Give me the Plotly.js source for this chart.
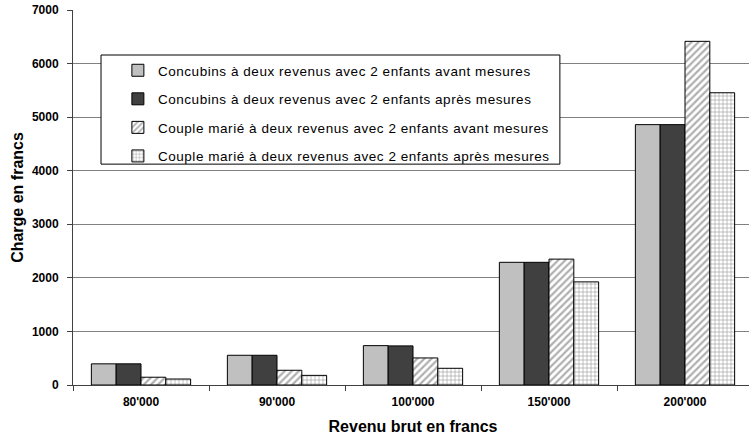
<!DOCTYPE html>
<html><head><meta charset="utf-8">
<script src="https://cdn.plot.ly/plotly-3.0.1.min.js"></script>
<style>html,body{margin:0;padding:0;overflow:hidden;background:#fff}
.legendtext{letter-spacing:0.55px}</style>
</head><body><div id="chart"></div>
<script>
const categories = ["80'000", "90'000", "100'000", "150'000", "200'000"];
const concubinsAvant = [395, 555, 735, 2290, 4860];
const concubinsApres = [395, 555, 730, 2290, 4860];
const marieAvant = [145, 275, 505, 2350, 6415];
const marieApres = [112, 180, 312, 1925, 5455];
const seriesNames = [
  "Concubins à deux revenus avec 2 enfants avant mesures",
  "Concubins à deux revenus avec 2 enfants après mesures",
  "Couple marié à deux revenus avec 2 enfants avant mesures",
  "Couple marié à deux revenus avec 2 enfants après mesures"
];
const font = "Liberation Sans, Arial, sans-serif";
const line = {color: '#000', width: 1};
const traces = [
  {type:'bar', x:categories, y:concubinsAvant, name:seriesNames[0], legendgroup:'a',
   marker:{color:'#c0c0c0', line}},
  {type:'bar', x:categories, y:concubinsApres, name:seriesNames[1], legendgroup:'b',
   marker:{color:'#404040', line}},
  {type:'bar', x:categories, y:marieAvant, name:seriesNames[2], legendgroup:'c',
   marker:{color:'#ffffff', line, pattern:{shape:'/', fgcolor:'#b0b0b0', bgcolor:'#ffffff', size:5, solidity:0.45}}},
  {type:'bar', x:categories, y:marieApres, name:seriesNames[3], legendgroup:'d',
   marker:{color:'#ffffff', line, pattern:{shape:'+', fgcolor:'#8c8c8c', bgcolor:'#ffffff', size:4, solidity:0.25}}}
];
const layout = {
  width: 760, height: 441,
  margin: {l: 73, r: 7, t: 10, b: 56},
  paper_bgcolor: '#fff', plot_bgcolor: '#fff',
  font: {family: font, color: '#000', size: 12},
  barmode: 'group', bargap: 0.27, bargroupgap: 0,
  showlegend: true,
  legend: {x: 0.066, y: 0.88, xanchor: 'left', yanchor: 'top',
    bgcolor: 'rgba(0,0,0,0)', borderwidth: 0,
    font: {family: font, size: 13.5, color: '#000'}, tracegroupgap: 8,
    traceorder: 'grouped'},
  shapes: [{type: 'rect', xref: 'paper', yref: 'paper', x0: 0.0412, x1: 0.716, y0: 0.589, y1: 0.88,
    fillcolor: '#ffffff', line: {color: '#000', width: 1}, layer: 'above'}],
  xaxis: {type: 'category', tickson: 'boundaries', ticks: 'outside', ticklen: 5,
    tickcolor: '#404040', showline: true, linecolor: '#404040', linewidth: 1,
    showgrid: false, ticklabelstandoff: 6, tickfont: {family: font, size: 12, weight: 'bold'},
    title: {text: 'Revenu brut en francs', font: {family: font, size: 16, weight: 'bold'}, standoff: 12}},
  yaxis: {range: [0, 7000], dtick: 1000, ticks: 'outside', ticklen: 5, tickcolor: '#404040',
    showline: true, linecolor: '#404040', linewidth: 1, showgrid: true, gridcolor: '#808080',
    gridwidth: 1, zeroline: false, ticklabelstandoff: 6,
    tickfont: {family: font, size: 12, weight: 'bold'},
    title: {text: 'Charge en francs', font: {family: font, size: 16, weight: 'bold'}, standoff: 4}}
};
Plotly.newPlot('chart', traces, layout, {displayModeBar: false, staticPlot: true});
</script></body></html>
